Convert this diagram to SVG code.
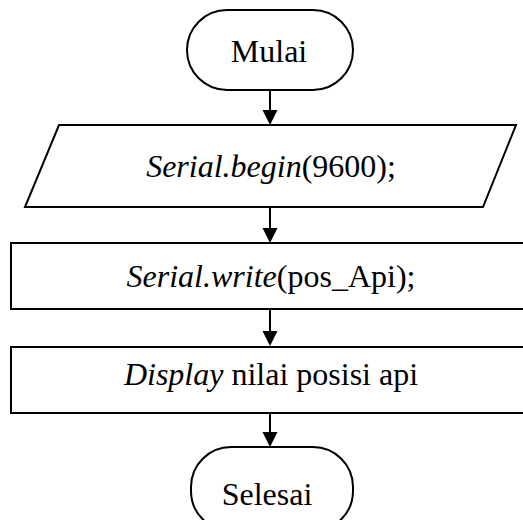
<svg xmlns="http://www.w3.org/2000/svg" width="523" height="520" viewBox="0 0 523 520">
<style>
.s{fill:#fff;stroke:#000;stroke-width:2}
.t{font-family:"Liberation Serif","Times New Roman",serif;font-size:32px;fill:#000;text-anchor:middle}
.c{stroke:#000;stroke-width:2;fill:none}
</style>
<defs>
<marker id="ah" markerWidth="8" markerHeight="8" viewBox="0 0 8 8" refX="8" refY="4" orient="auto" markerUnits="userSpaceOnUse">
<path d="M0,0 L8,4 L0,8 Z" fill="#000"/>
</marker>
</defs>
<rect width="523" height="520" fill="#fff"/>
<g id="connectors">
<line class="c" x1="270" y1="91" x2="270" y2="110"/><path d="M262.5,110 L277.5,110 L270,125 Z"/>
<line class="c" x1="270" y1="207" x2="270" y2="228"/><path d="M262.5,228 L277.5,228 L270,243 Z"/>
<line class="c" x1="270" y1="309" x2="270" y2="331"/><path d="M262.5,331 L277.5,331 L270,346 Z"/>
<line class="c" x1="270" y1="413" x2="270" y2="432"/><path d="M262.5,432 L277.5,432 L270,447 Z"/>
</g>
<g id="mulai">
<rect class="s" x="187" y="10" width="166" height="80" rx="40" ry="40"/>
<text class="t" x="269" y="62">Mulai</text>
</g>
<g id="serial-begin">
<polygon class="s" points="59,125 516,125 483,207 25,207"/>
<text class="t" x="271" y="177"><tspan font-style="italic">Serial.begin</tspan>(9600);</text>
</g>
<g id="serial-write">
<rect class="s" x="11" y="243" width="530" height="66"/>
<text class="t" x="271" y="287"><tspan font-style="italic">Serial.write</tspan>(pos_Api);</text>
</g>
<g id="display">
<rect class="s" x="11" y="347" width="530" height="66"/>
<text class="t" x="271" y="385"><tspan font-style="italic">Display</tspan> nilai posisi api</text>
</g>
<g id="selesai">
<rect class="s" x="191" y="447" width="162" height="84" rx="40" ry="40"/>
<text class="t" x="267" y="505">Selesai</text>
</g>
</svg>
